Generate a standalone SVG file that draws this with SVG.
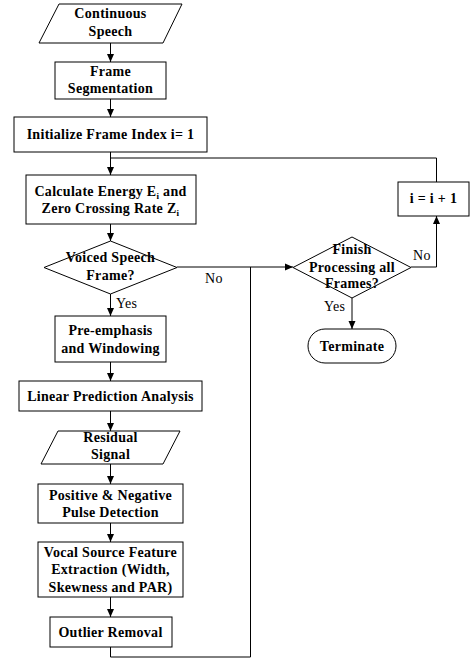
<svg xmlns="http://www.w3.org/2000/svg" width="471" height="660" viewBox="0 0 471 660">
<defs>
<marker id="ah" markerWidth="8" markerHeight="10" refX="8" refY="3.5" orient="auto" markerUnits="userSpaceOnUse" viewBox="0 0 8 7">
<path d="M0,0 L8,3.5 L0,7 z" fill="#000"/>
</marker>
<style>
.n{fill:#fff;stroke:#000;stroke-width:1}
.t{font-family:"Liberation Serif","Times New Roman",serif;font-size:14px;font-weight:bold;letter-spacing:0.3px;text-anchor:middle;fill:#000}
.l{font-family:"Liberation Serif","Times New Roman",serif;font-size:14px;letter-spacing:0.3px;fill:#000}
.c{fill:none;stroke:#000;stroke-width:1}
.a{fill:none;stroke:#000;stroke-width:1;marker-end:url(#ah)}
.s{font-size:9px}
</style>
</defs>
<rect width="471" height="660" fill="#fff"/>
<g id="connectors">
<line class="a" x1="110.5" y1="43" x2="110.5" y2="62"/>
<line class="a" x1="110.5" y1="99" x2="110.5" y2="117"/>
<line class="a" x1="110.5" y1="152" x2="110.5" y2="175"/>
<path class="c" d="M436.5,182 V158 H110.5"/>
<line class="a" x1="110.5" y1="224" x2="110.5" y2="241"/>
<line class="a" x1="110.5" y1="294" x2="110.5" y2="316"/>
<line class="a" x1="110.5" y1="362" x2="110.5" y2="381"/>
<line class="a" x1="110.5" y1="411" x2="110.5" y2="431"/>
<line class="a" x1="110.5" y1="464" x2="110.5" y2="484"/>
<line class="a" x1="110.5" y1="523" x2="110.5" y2="542"/>
<line class="a" x1="110.5" y1="597" x2="110.5" y2="617"/>
<path class="c" d="M110.5,647 V657 H250.5 V267"/>
<line class="a" x1="177" y1="267" x2="293" y2="267"/>
<path class="a" d="M411,267 H436.5 V216"/>
<line class="a" x1="352" y1="298" x2="352" y2="329"/>
<text class="l" x="205" y="283">No</text>
<text class="l" x="413" y="260">No</text>
<text class="l" x="116" y="308">Yes</text>
<text class="l" x="324" y="311">Yes</text>
</g>
<g id="continuous-speech">
<polygon class="n" points="59,4 182,4 163,43 39,43"/>
<text class="t" x="110.5" y="18">Continuous</text>
<text class="t" x="110.5" y="36">Speech</text>
</g>
<g id="frame-segmentation">
<rect class="n" x="55" y="62" width="111" height="37"/>
<text class="t" x="110.5" y="76">Frame</text>
<text class="t" x="110.5" y="93">Segmentation</text>
</g>
<g id="initialize">
<rect class="n" x="14" y="117" width="193" height="35"/>
<text class="t" x="110.5" y="139">Initialize Frame Index  i= 1</text>
</g>
<g id="calculate">
<rect class="n" x="26" y="175" width="170" height="49"/>
<text class="t" x="110.5" y="195.5">Calculate Energy E<tspan class="s" dy="3">i</tspan><tspan dy="-3"> and</tspan></text>
<text class="t" x="110.5" y="213">Zero Crossing Rate Z<tspan class="s" dy="3">i</tspan></text>
</g>
<g id="voiced">
<polygon class="n" points="110.5,241 177,267.5 110.5,294 44,267.5"/>
<text class="t" x="110.5" y="262">Voiced Speech</text>
<text class="t" x="110.5" y="280">Frame?</text>
</g>
<g id="pre-emphasis">
<rect class="n" x="55" y="316" width="111" height="46"/>
<text class="t" x="110.5" y="335">Pre-emphasis</text>
<text class="t" x="110.5" y="353">and Windowing</text>
</g>
<g id="lpa">
<rect class="n" x="19" y="381" width="183" height="30"/>
<text class="t" x="110.5" y="401">Linear Prediction Analysis</text>
</g>
<g id="residual">
<polygon class="n" points="58,431 180,431 163,464 41,464"/>
<text class="t" x="110.5" y="442">Residual</text>
<text class="t" x="110.5" y="459">Signal</text>
</g>
<g id="pulse-detection">
<rect class="n" x="38" y="484" width="145" height="39"/>
<text class="t" x="110.5" y="499.5">Positive &amp; Negative</text>
<text class="t" x="110.5" y="516.5">Pulse Detection</text>
</g>
<g id="feature-extraction">
<rect class="n" x="38" y="542" width="145" height="55"/>
<text class="t" x="110.5" y="556.5">Vocal Source Feature</text>
<text class="t" x="110.5" y="574">Extraction (Width,</text>
<text class="t" x="110.5" y="591.5">Skewness and PAR)</text>
</g>
<g id="outlier">
<rect class="n" x="50" y="617" width="122" height="30"/>
<text class="t" x="110.5" y="637">Outlier Removal</text>
</g>
<g id="finish">
<polygon class="n" points="352,237 411,267.5 352,298 293,267.5"/>
<text class="t" x="352" y="254">Finish</text>
<text class="t" x="352" y="271.5">Processing all</text>
<text class="t" x="352" y="288">Frames?</text>
</g>
<g id="increment">
<rect class="n" x="398" y="182" width="71" height="34"/>
<text class="t" x="433.5" y="203">i = i + 1</text>
</g>
<g id="terminate">
<rect class="n" x="308" y="329" width="88" height="34" rx="17" ry="17"/>
<text class="t" x="352" y="351">Terminate</text>
</g>
</svg>
